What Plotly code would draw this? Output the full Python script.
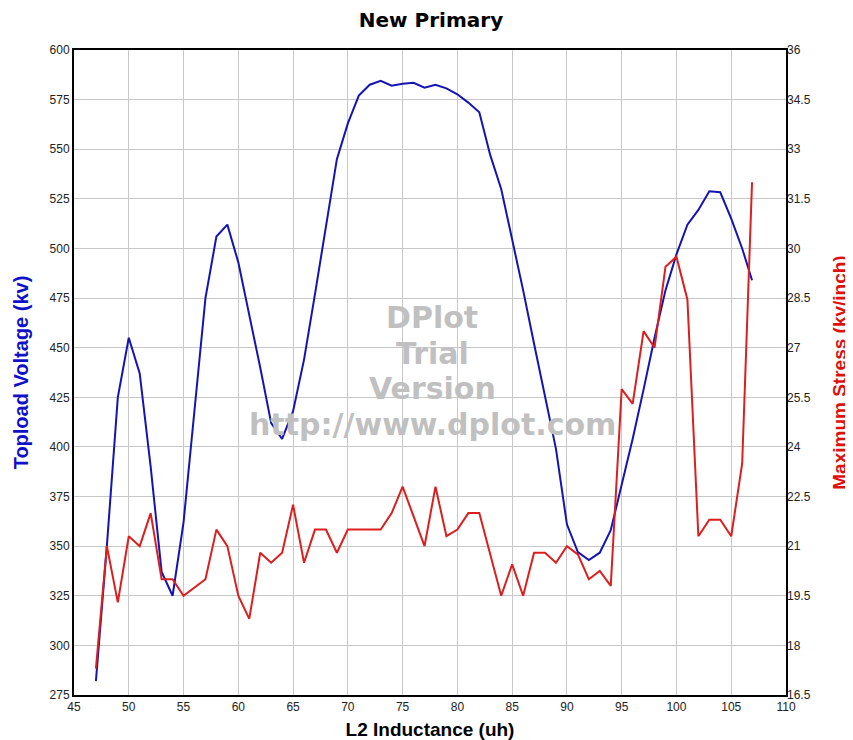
import plotly.graph_objects as go

# ---- data ----
inductance = [47, 48, 49, 50, 51, 52, 53, 54, 55, 56, 57, 58, 59, 60, 61, 62, 63, 64, 65, 66,
              67, 68, 69, 70, 71, 72, 73, 74, 75, 76, 77, 78, 79, 80, 81, 82, 83, 84, 85, 86,
              87, 88, 89, 90, 91, 92, 93, 94, 95, 96, 97, 98, 99, 100, 101, 102, 103, 104, 105, 106,
              106.9]

topload_kv = [282, 350, 425, 455, 437, 390, 337, 325, 362, 418, 475, 506, 512, 493, 467, 440, 412, 404, 418, 444,
              477, 511, 545, 563, 577, 582.5, 584.5, 582, 583, 583.5, 581, 582.5, 580.7, 577.7, 573.5, 568.6, 547, 530, 505, 479,
              452, 426, 399, 361, 347, 343, 346.7, 358, 381, 404, 429, 455, 479, 497, 512, 519.4, 528.8, 528.3, 515, 500,
              484]

stress_kv_in = [17.3, 21.0, 19.3, 21.3, 21.0, 22.0, 20.0, 20.0, 19.5, 19.75, 20.0, 21.5, 21.0, 19.5, 18.8, 20.8, 20.5, 20.8, 22.25, 20.5,
                21.5, 21.5, 20.8, 21.5, 21.5, 21.5, 21.5, 22.0, 22.8, 21.9, 21.0, 22.8, 21.3, 21.5, 22.0, 22.0, 20.75, 19.5, 20.45, 19.5,
                20.8, 20.8, 20.5, 21.0, 20.75, 20.0, 20.25, 19.8, 25.75, 25.3, 27.5, 27.0, 29.45, 29.75, 28.45, 21.3, 21.8, 21.8, 21.3, 23.5,
                32.0]

title_text = "New Primary"
x_title = "L2 Inductance (uh)"
y_title = "Topload Voltage (kv)"
y2_title = "Maximum Stress (kv/inch)"
watermark_lines = ["DPlot", "Trial", "Version", "http://www.dplot.com"]

BLUE = "#1414B4"
RED = "#DC1E1E"
GRID = "#c8c8c8"
TICKFONT = dict(family="Liberation Sans, Arial, sans-serif", size=12, color="#222222")

# the page body adds an 8px offset, so the figure is sized to fit the window
FIG_W, FIG_H = 845, 732

fig = go.Figure()
fig.add_trace(go.Scatter(x=inductance, y=topload_kv, mode="lines",
                         line=dict(color=BLUE, width=2), yaxis="y", showlegend=False))
fig.add_trace(go.Scatter(x=inductance, y=stress_kv_in, mode="lines",
                         line=dict(color=RED, width=2), yaxis="y2", showlegend=False))

# watermark: one text line per annotation, evenly stacked about the plot centre
wm_top, wm_step = 0.5845, 0.0548
annotations = [dict(text=t, xref="paper", yref="paper", x=0.5035, y=wm_top - i * wm_step,
                    xanchor="center", yanchor="middle", showarrow=False,
                    font=dict(family="DejaVu Sans, sans-serif", size=30, color="#c0c0c0",
                              weight="bold"))
               for i, t in enumerate(watermark_lines)]

fig.update_layout(
    template="none",
    width=FIG_W, height=FIG_H,
    margin=dict(l=66, r=67, t=42, b=45, autoexpand=False),
    paper_bgcolor="white", plot_bgcolor="white",
    title=dict(text=title_text, x=0.5006, xanchor="center", y=1 - 12 / FIG_H, yanchor="middle",
               automargin=False,
               font=dict(family="DejaVu Sans, sans-serif", size=20, color="black", weight="bold")),
    xaxis=dict(range=[45, 110], tick0=45, dtick=5, showgrid=True, gridcolor=GRID, gridwidth=1,
               showline=True, linecolor="black", linewidth=2, mirror=True, ticks="",
               tickfont=TICKFONT, zeroline=False, automargin=False,
               title=dict(text=x_title, standoff=10,
                          font=dict(family="Liberation Sans, Arial, sans-serif", size=19,
                                    color="black", weight="bold"))),
    yaxis=dict(range=[275, 600], tick0=275, dtick=25, showgrid=True, gridcolor=GRID, gridwidth=1,
               showline=True, linecolor="black", linewidth=2, mirror=True, ticks="",
               tickfont=TICKFONT, zeroline=False, automargin=False,
               title=dict(text=y_title, standoff=16,
                          font=dict(family="Liberation Sans, Arial, sans-serif", size=20,
                                    color="#1010C8", weight="bold"))),
    yaxis2=dict(range=[16.5, 36], tick0=16.5, dtick=1.5, overlaying="y", side="right",
                showgrid=False, showline=False, ticks="", tickfont=TICKFONT, zeroline=False,
                automargin=False,
                title=dict(text=y2_title, standoff=23,
                           font=dict(family="Liberation Sans, Arial, sans-serif", size=19,
                                     color="#E01010", weight="bold"))),
    annotations=annotations,
)

fig.write_html("out.html")
